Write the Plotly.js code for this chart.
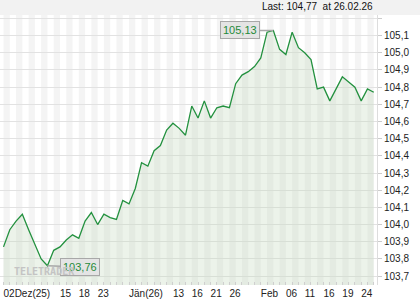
<!DOCTYPE html>
<html>
<head>
<meta charset="utf-8">
<script src="https://cdn.plot.ly/plotly-3.0.1.min.js"></script>
<style>html,body{margin:0;padding:0;background:#fff;}#chart{width:420px;height:300px;}</style>
</head>
<body>
<div id="chart"></div>
<script>
// ---- data ----
const dates = [
  '2025-12-02','2025-12-03','2025-12-04','2025-12-05','2025-12-08','2025-12-09','2025-12-10','2025-12-11','2025-12-12',
  '2025-12-15','2025-12-16','2025-12-17','2025-12-18','2025-12-19','2025-12-22','2025-12-23','2025-12-24','2025-12-29',
  '2025-12-30','2025-12-31',
  '2026-01-02','2026-01-05','2026-01-06','2026-01-07','2026-01-08','2026-01-09','2026-01-12','2026-01-13','2026-01-14',
  '2026-01-15','2026-01-16','2026-01-19','2026-01-20','2026-01-21','2026-01-22','2026-01-23','2026-01-26','2026-01-27',
  '2026-01-28','2026-01-29','2026-01-30',
  '2026-02-02','2026-02-03','2026-02-04','2026-02-05','2026-02-06','2026-02-09','2026-02-10','2026-02-11','2026-02-12',
  '2026-02-13','2026-02-16','2026-02-17','2026-02-18','2026-02-19','2026-02-20','2026-02-23','2026-02-24','2026-02-25',
  '2026-02-26'
];
const prices = [
  103.87,103.97,104.02,104.06,103.97,103.88,103.80,103.76,103.85,
  103.87,103.91,103.94,103.92,104.02,104.07,104.00,104.06,104.04,
  104.03,104.14,
  104.12,104.21,104.36,104.34,104.43,104.46,104.55,104.59,104.56,
  104.52,104.69,104.62,104.72,104.62,104.68,104.69,104.68,104.82,
  104.87,104.89,104.92,
  104.97,105.12,105.13,105.02,104.99,105.12,105.03,105.00,104.96,
  104.79,104.80,104.72,104.79,104.86,104.83,104.80,104.72,104.79,
  104.77
];
const tickDates = ['2025-12-02','2025-12-15','2025-12-18','2025-12-23','2026-01-02','2026-01-13','2026-01-16',
  '2026-01-21','2026-01-26','2026-02-02','2026-02-06','2026-02-11','2026-02-16','2026-02-19','2026-02-24'];
const tickLabels = ['02Dez(25)','15','18','23','Jän(26)','13','16','21','26','Feb','06','11','16','19','24'];
const yTickVals = [103.7,103.8,103.9,104.0,104.1,104.2,104.3,104.4,104.5,104.6,104.7,104.8,104.9,105.0,105.1,105.2];
const yTickLabels = ['103,7','103,8','103,9','104,0','104,1','104,2','104,3','104,4','104,5','104,6','104,7','104,8','104,9','105,0','105,1',''];
const lastLabel = '26.02.26';

// ---- build ----
const fmt = v => v.toFixed(2).replace('.', ',');
const idx = dates.map((d, i) => i);
const tickIdx = tickDates.map(d => dates.indexOf(d));
let maxI = 0, minI = 0;
prices.forEach((v, i) => { if (v > prices[maxI]) maxI = i; if (v < prices[minI]) minI = i; });
const lastI = prices.length - 1;

const shapes = [];
// header band
shapes.push({type:'rect', xref:'paper', yref:'paper', x0:-0.01, x1:1.2, y0:1, y1:1.06,
  fillcolor:'#f2f2f2', line:{width:0}, layer:'below'});
// alternating day stripes
for (let k = 0; k < dates.length; k += 2) {
  shapes.push({type:'rect', xref:'x', yref:'paper', x0:k, x1:k + 1, y0:0, y1:1,
    fillcolor:'#f4f4f4', line:{width:0}, layer:'below'});
}

const font = 'Liberation Sans, Arial, sans-serif';
const trace = {
  x: idx, y: prices, type:'scatter', mode:'lines',
  line:{color:'#23913f', width:1.3},
  fill:'tozeroy', fillcolor:'rgba(196,218,190,0.32)',
  hoverinfo:'skip'
};

const layout = {
  width:420, height:300,
  margin:{l:0, r:43, t:15, b:15},
  paper_bgcolor:'#ffffff', plot_bgcolor:'rgba(0,0,0,0)',
  separators:',.',
  showlegend:false,
  font:{family:font, size:10, color:'#222'},
  xaxis:{
    range:[-0.56, 59.52], showgrid:false, zeroline:false, showline:false,
    tickmode:'array', tickvals:tickIdx, ticktext:tickLabels, tickangle:0,
    ticks:'', ticklabelposition:'outside right', ticklabelstandoff:1,
    tickfont:{family:font, size:10, color:'#222'},
    minor:{tickmode:'linear', tick0:0, dtick:1, ticks:'inside', ticklen:3, tickcolor:'#cfcfcf', showgrid:false},
    automargin:false, fixedrange:true
  },
  yaxis:{
    side:'right', range:[103.648, 105.22], tickmode:'array', tickvals:yTickVals, ticktext:yTickLabels,
    showgrid:true, gridcolor:'#e2e2e2', gridwidth:1, zeroline:false,
    showline:true, linecolor:'#dddddd', linewidth:1,
    ticks:'outside', ticklen:4, tickcolor:'#cccccc',
    tickfont:{family:font, size:10, color:'#222'},
    automargin:false, fixedrange:true
  },
  shapes: shapes,
  annotations:[
    {xref:'paper', yref:'paper', x:0.995, y:1 + 8/270, xanchor:'right', yanchor:'middle',
     text:'Last: ' + fmt(prices[lastI]) + '  at ' + lastLabel, showarrow:false,
     font:{family:font, size:10, color:'#111'}},
    {xref:'x', yref:'y', x:maxI, y:prices[maxI], text:fmt(prices[maxI]),
     showarrow:true, arrowhead:0, arrowwidth:1.5, arrowcolor:'#a8a8a8', ax:-33, ay:0,
     bgcolor:'#e4e4e4', bordercolor:'#a8a8a8', borderwidth:1, borderpad:2,
     font:{family:font, size:11, color:'#1f8a3a'}},
    {xref:'x', yref:'y', x:minI, y:prices[minI], text:fmt(prices[minI]),
     showarrow:true, arrowhead:0, arrowwidth:1.5, arrowcolor:'#a8a8a8', ax:33, ay:1,
     bgcolor:'#e4e4e4', bordercolor:'#a8a8a8', borderwidth:1, borderpad:2,
     font:{family:font, size:11, color:'#1f8a3a'}},
    {xref:'paper', yref:'paper', x:12/376.7, y:(285-271)/270, xanchor:'left', yanchor:'middle',
     text:'<b>TELETRADER</b>', showarrow:false, font:{family:'DejaVu Sans Mono, monospace', size:10, color:'#c4c4c4'}}
  ]
};

Plotly.newPlot('chart', [trace], layout, {staticPlot:true, displayModeBar:false});
</script>
</body>
</html>
